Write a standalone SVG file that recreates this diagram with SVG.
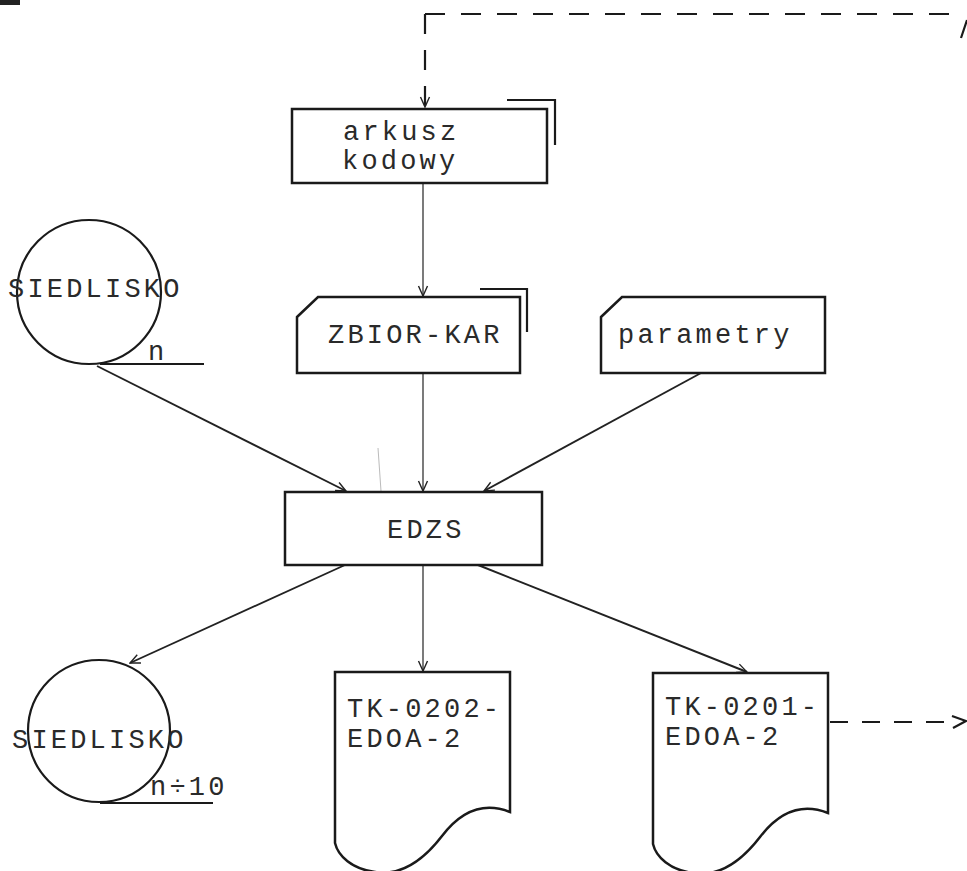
<svg xmlns="http://www.w3.org/2000/svg" width="967" height="871" viewBox="0 0 967 871">
<defs>
<style>
.box{fill:#fff;stroke:#1a1a1a;stroke-width:2.5}
.mark{fill:none;stroke:#1a1a1a;stroke-width:2.2}
.ln{fill:none;stroke:#222;stroke-width:1.9}
.thin{fill:none;stroke:#222;stroke-width:1.2}
.dash{fill:none;stroke:#1a1a1a;stroke-width:2.2;stroke-dasharray:20 16}
.t{font-family:"Liberation Mono","DejaVu Sans Mono",monospace;font-size:27px;letter-spacing:3.2px;fill:#2a2a2a}
</style>
<marker id="v" viewBox="0 0 12 12" refX="11" refY="6" markerWidth="12" markerHeight="12" markerUnits="userSpaceOnUse" orient="auto">
<path d="M1,1.5 L11,6 L1,10.5" fill="none" stroke="#222" stroke-width="1.4"/>
</marker>
</defs>
<rect width="967" height="871" fill="#fff"/>
<rect x="0" y="0" width="20" height="5" fill="#222"/>

<g id="connectors">
<path class="dash" d="M425,14 L955,14"/>
<path class="dash" d="M425,14 L425,107" marker-end="url(#v)"/>
<path d="M961,38 L967,20" class="mark"/>
<path class="thin" d="M423,183 L423,296" marker-end="url(#v)"/>
<path class="thin" d="M423,373 L423,491" marker-end="url(#v)"/>
<path class="ln" d="M97,366 L346,491" marker-end="url(#v)"/>
<path class="ln" d="M701,373 L484,491" marker-end="url(#v)"/>
<path class="ln" d="M345,565 L130,663" marker-end="url(#v)"/>
<path class="thin" d="M423,565 L423,671" marker-end="url(#v)"/>
<path class="ln" d="M478,565 L747,672" marker-end="url(#v)"/>
<path class="dash" d="M830,722 L950,722" style="stroke-dasharray:18 14"/>
<path d="M952,716 L966,721 L953,728" class="mark"/>
</g>
<path d="M378,448 L381,491" fill="none" stroke="#bbb" stroke-width="1"/>

<g id="arkusz">
<rect class="box" x="292" y="109" width="255" height="74"/>
<path class="mark" d="M507,100 L555,100 L555,145"/>
<text class="t" x="343" y="140">arkusz</text>
<text class="t" x="342" y="169">kodowy</text>
</g>

<g id="zbior">
<path class="box" d="M297,317 L318,297 L520,297 L520,373 L297,373 Z"/>
<path class="mark" d="M480,289 L527,289 L527,332"/>
<text class="t" x="328" y="343">ZBIOR-KAR</text>
</g>

<g id="parametry">
<path class="box" d="M601,317 L622,297 L825,297 L825,373 L601,373 Z"/>
<text class="t" x="618" y="343">parametry</text>
</g>

<g id="siedlisko-n">
<circle cx="89" cy="292" r="72" fill="none" stroke="#1a1a1a" stroke-width="2.2"/>
<path class="mark" d="M100,364 L204,364"/>
<text class="t" x="8" y="297">SIEDLISKO</text>
<text class="t" x="148" y="360">n</text>
</g>

<g id="edzs">
<rect class="box" x="285" y="492" width="257" height="73"/>
<text class="t" x="387" y="538">EDZS</text>
</g>

<g id="siedlisko-n10">
<circle cx="99" cy="731" r="71" fill="none" stroke="#1a1a1a" stroke-width="2.2"/>
<path class="mark" d="M100,803 L213,803"/>
<text class="t" x="12" y="748">SIEDLISKO</text>
<text class="t" x="150" y="795">n÷10</text>
</g>

<g id="tk0202">
<path class="box" d="M335,672 L510,672 L510,812 C480,800 458,815 442,836 C422,862 400,876 375,872 C352,869 338,856 335,843 Z"/>
<text class="t" x="347" y="717">TK-0202-</text>
<text class="t" x="347" y="747">EDOA-2</text>
</g>

<g id="tk0201">
<path class="box" d="M653,673 L828,673 L828,813 C798,801 776,816 760,837 C740,863 718,877 693,873 C670,870 656,857 653,844 Z"/>
<text class="t" x="665" y="715">TK-0201-</text>
<text class="t" x="665" y="745">EDOA-2</text>
</g>
</svg>
